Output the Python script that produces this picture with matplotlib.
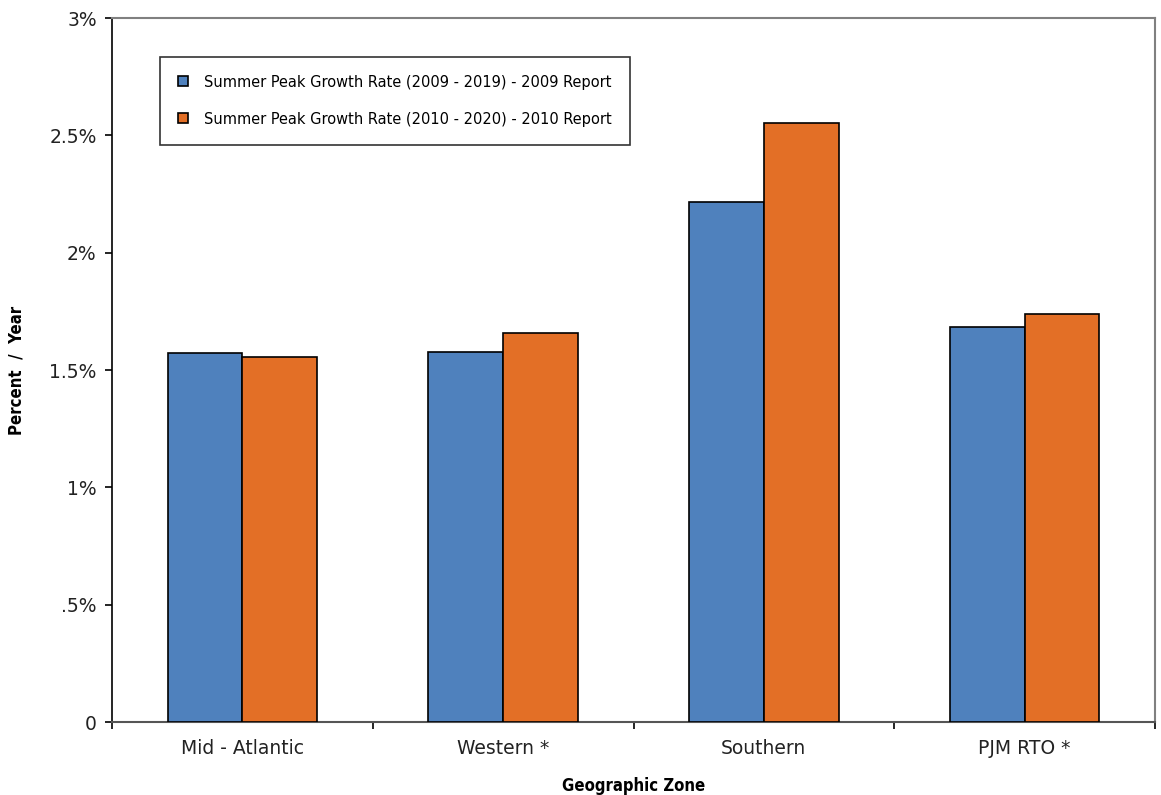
import numpy as np
import matplotlib.pyplot as plt
from matplotlib.ticker import FixedLocator, NullFormatter

# dados
zonas = ['Mid - Atlantic', 'Western *', 'Southern', 'PJM RTO *']
taxa_2009 = [1.572, 1.577, 2.216, 1.683]
taxa_2010 = [1.555, 1.658, 2.553, 1.739]
serie_2009 = 'Summer Peak Growth Rate (2009 - 2019) - 2009 Report'
serie_2010 = 'Summer Peak Growth Rate (2010 - 2020) - 2010 Report'
y_ticks = [0, 0.5, 1, 1.5, 2, 2.5, 3]
y_labels = ['0', '.5%', '1%', '1.5%', '2%', '2.5%', '3%']

fig = plt.figure(figsize=(11.61, 7.95), dpi=100)
ax = fig.add_axes([112 / 1161, 1 - 722 / 795, (1155 - 112) / 1161, (722 - 18) / 795])

x = np.arange(len(zonas))
w = 0.287
ax.bar(x - w / 2, taxa_2009, w, color='#4f81bd', edgecolor='black', linewidth=1.2, label=serie_2009, zorder=3)
ax.bar(x + w / 2, taxa_2010, w, color='#e36f26', edgecolor='black', linewidth=1.2, label=serie_2010, zorder=3)

ax.set_xlim(-0.5, len(zonas) - 0.5)
ax.set_ylim(0, 3)
ax.set_yticks(y_ticks)
ax.set_yticklabels(y_labels, fontsize=13.5, color='#222222')
ax.set_xticks(x)
ax.set_xticklabels(zonas, fontsize=13.5, color='#222222')
ax.tick_params(axis='x', which='major', length=0, pad=12)
ax.xaxis.set_minor_locator(FixedLocator(np.arange(len(zonas) + 1) - 0.5))
ax.xaxis.set_minor_formatter(NullFormatter())
ax.tick_params(axis='x', which='minor', length=5, width=1.2, direction='out')
ax.tick_params(axis='y', length=5, width=1.2, direction='out', pad=6)

for s in ['top', 'right']:
    ax.spines[s].set_color('#808080')
    ax.spines[s].set_linewidth(1.5)
ax.spines['left'].set_color('black')
ax.spines['bottom'].set_color('#555555')
ax.spines['left'].set_linewidth(1.2)
ax.spines['bottom'].set_linewidth(1.5)

ax.set_xlabel('Geographic Zone', fontsize=12, fontweight='bold', fontstretch='condensed', labelpad=14)
ax.set_ylabel('Percent  /  Year', fontsize=12, fontweight='bold', fontstretch='condensed')
ax.yaxis.set_label_coords(-0.083, 0.5)

leg = ax.legend(loc='upper left', bbox_to_anchor=(48 / 1043, 1 - 39 / 704),
                prop={'stretch': 'condensed', 'size': 11.7},
                frameon=True, fancybox=False, edgecolor='black', handlelength=0.6, handleheight=0.6,
                borderpad=1.1, labelspacing=1.35, handletextpad=1.0, borderaxespad=0)
leg.get_frame().set_linewidth(1.2)

fig.savefig('out.png', dpi=100)
